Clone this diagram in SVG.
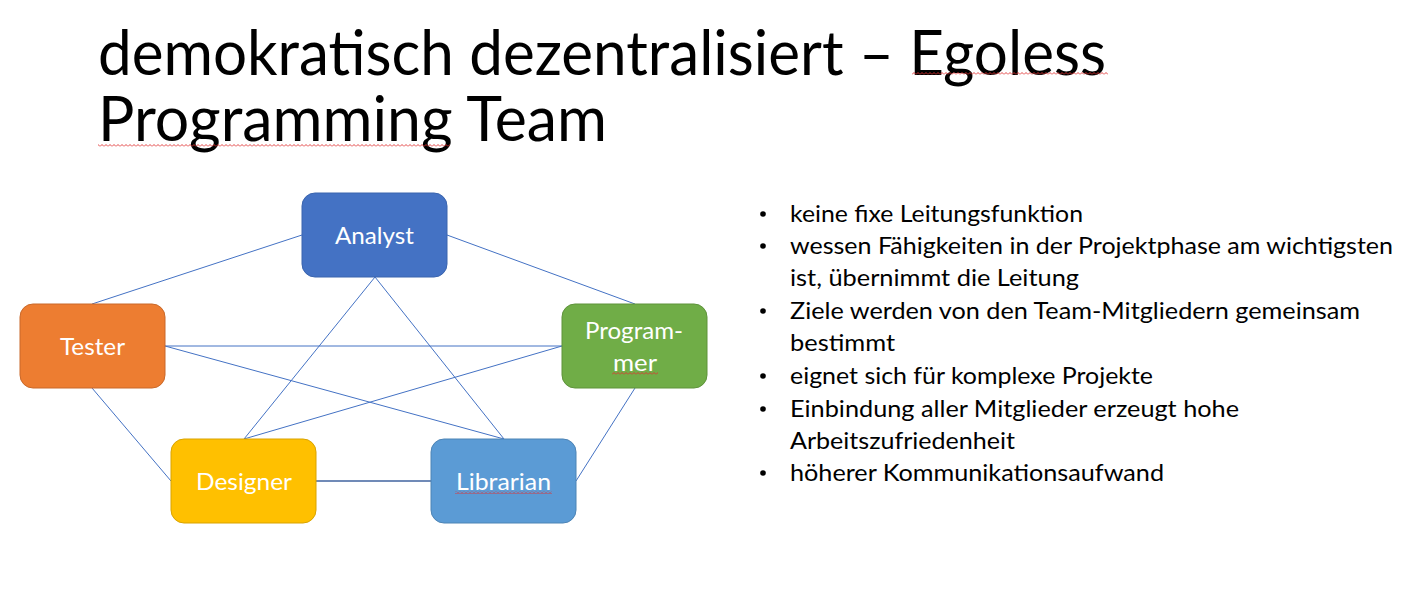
<svg xmlns="http://www.w3.org/2000/svg" width="1408" height="605" viewBox="0 0 1408 605">
  <defs>
    <style>
      .title { font-family: Lato, "Open Sans", "Liberation Sans", sans-serif; font-size: 61px; font-weight: 400; fill: #000; }
      .label { font-family: Lato, "Open Sans", "Liberation Sans", sans-serif; font-size: 23px; fill: #fff; }
      .bullet { font-family: Lato, "Open Sans", "Liberation Sans", sans-serif; font-size: 23.5px; fill: #000; }
      .dot { fill: #000; }
      .edge { stroke: #4472C4; stroke-width: 1; fill: none; }
      .edge-dark { stroke: #41639F; stroke-width: 1.3; fill: none; }
      .box { stroke-width: 1; }
      .wave { fill: url(#wave); }
    </style>
    <!-- red squiggle used for spell-check marks -->
    <pattern id="wave" width="4" height="3" patternUnits="userSpaceOnUse">
      <path d="M0,2.5 L2,0.5 L4,2.5" stroke="#E03030" stroke-width="0.9" fill="none"/>
    </pattern>
  </defs>

  <rect width="1408" height="605" fill="#fff"/>

  <!-- heading -->
  <g id="title">
    <text class="title" x="98" y="75" textLength="1008" lengthAdjust="spacingAndGlyphs">demokratisch dezentralisiert – Egoless</text>
    <text class="title" x="98" y="141" textLength="509" lengthAdjust="spacingAndGlyphs">Programming Team</text>
    <rect class="wave" x="912" y="72" width="196" height="3"/>
    <rect class="wave" x="98" y="144" width="352" height="3"/>
  </g>

  <!-- connectors -->
  <g id="connectors">
    <line class="edge" x1="302" y1="235" x2="92" y2="304"/>
    <line class="edge" x1="447" y1="235" x2="635" y2="304"/>
    <line class="edge" x1="375" y1="277" x2="244" y2="439"/>
    <line class="edge" x1="375" y1="277" x2="504" y2="439"/>
    <line class="edge" x1="165" y1="346" x2="562" y2="346"/>
    <line class="edge" x1="165" y1="346" x2="504" y2="439"/>
    <line class="edge" x1="562" y1="346" x2="244" y2="439"/>
    <line class="edge" x1="92" y1="388" x2="171" y2="481"/>
    <line class="edge" x1="635" y1="388" x2="576" y2="481"/>
    <line class="edge-dark" x1="316" y1="481" x2="431" y2="481"/>
  </g>

  <!-- team roles -->
  <g id="analyst">
    <rect class="box" x="302" y="193" width="145" height="84" rx="13" fill="#4472C4" stroke="#3A64AE"/>
    <text class="label" x="335" y="244" textLength="79" lengthAdjust="spacingAndGlyphs">Analyst</text>
  </g>
  <g id="tester">
    <rect class="box" x="20" y="304" width="145" height="84" rx="13" fill="#ED7D31" stroke="#C9692A"/>
    <text class="label" x="60" y="355" textLength="65" lengthAdjust="spacingAndGlyphs">Tester</text>
  </g>
  <g id="programmer">
    <rect class="box" x="562" y="304" width="145" height="84" rx="13" fill="#70AD47" stroke="#5E933B"/>
    <text class="label" x="585" y="339" textLength="98" lengthAdjust="spacingAndGlyphs">Program-</text>
    <text class="label" x="613" y="371" textLength="44" lengthAdjust="spacingAndGlyphs">mer</text>
    <rect class="wave" x="612" y="372" width="46" height="3"/>
  </g>
  <g id="designer">
    <rect class="box" x="171" y="439" width="145" height="84" rx="13" fill="#FFC000" stroke="#D9A300"/>
    <text class="label" x="196" y="490" textLength="96" lengthAdjust="spacingAndGlyphs">Designer</text>
  </g>
  <g id="librarian">
    <rect class="box" x="431" y="439" width="145" height="84" rx="13" fill="#5B9BD5" stroke="#4D84B5"/>
    <text class="label" x="456" y="490" textLength="95" lengthAdjust="spacingAndGlyphs">Librarian</text>
    <rect class="wave" x="455" y="491" width="97" height="3"/>
  </g>

  <!-- bullet list -->
  <g id="bullets">
    <circle class="dot" cx="763" cy="214" r="2.8"/>
    <text class="bullet" x="790" y="222" textLength="293" lengthAdjust="spacingAndGlyphs">keine fixe Leitungsfunktion</text>
    <circle class="dot" cx="763" cy="246" r="2.8"/>
    <text class="bullet" x="790" y="254" textLength="603" lengthAdjust="spacingAndGlyphs">wessen Fähigkeiten in der Projektphase am wichtigsten</text>
    <text class="bullet" x="790" y="286" textLength="289" lengthAdjust="spacingAndGlyphs">ist, übernimmt die Leitung</text>
    <circle class="dot" cx="763" cy="311" r="2.8"/>
    <text class="bullet" x="790" y="319" textLength="570" lengthAdjust="spacingAndGlyphs">Ziele werden von den Team-Mitgliedern gemeinsam</text>
    <text class="bullet" x="790" y="351" textLength="105" lengthAdjust="spacingAndGlyphs">bestimmt</text>
    <circle class="dot" cx="763" cy="376" r="2.8"/>
    <text class="bullet" x="790" y="384" textLength="363" lengthAdjust="spacingAndGlyphs">eignet sich für komplexe Projekte</text>
    <circle class="dot" cx="763" cy="409" r="2.8"/>
    <text class="bullet" x="790" y="417" textLength="449" lengthAdjust="spacingAndGlyphs">Einbindung aller Mitglieder erzeugt hohe</text>
    <text class="bullet" x="790" y="449" textLength="225" lengthAdjust="spacingAndGlyphs">Arbeitszufriedenheit</text>
    <circle class="dot" cx="763" cy="473" r="2.8"/>
    <text class="bullet" x="790" y="481" textLength="374" lengthAdjust="spacingAndGlyphs">höherer Kommunikationsaufwand</text>
  </g>
</svg>
